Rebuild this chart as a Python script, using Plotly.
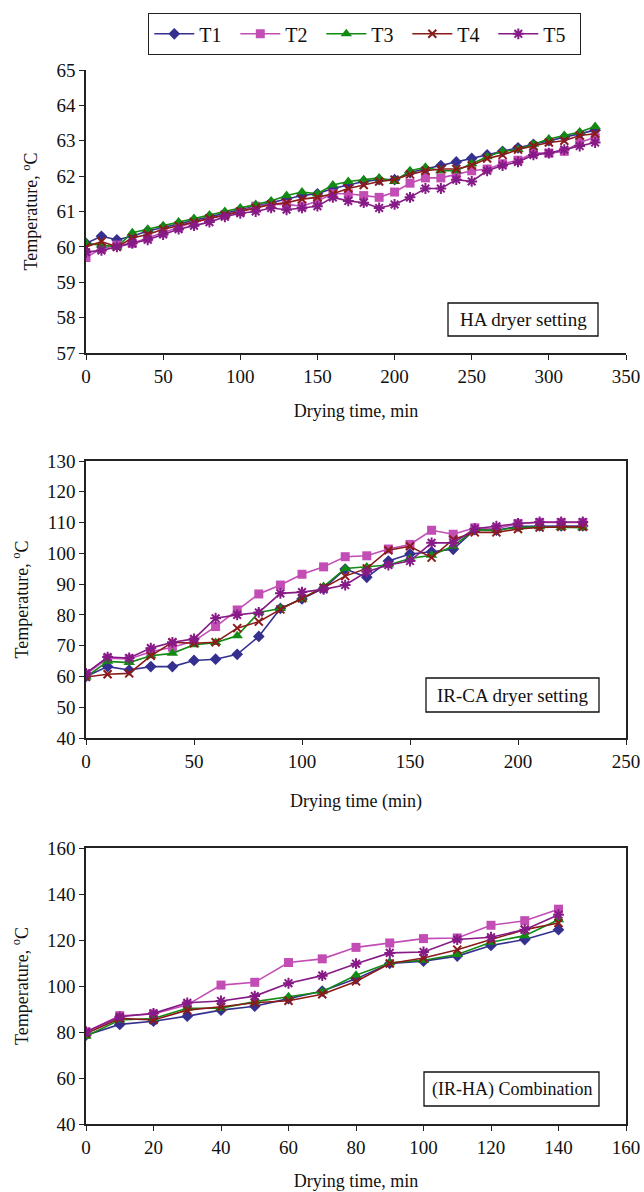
import plotly.graph_objects as go
from plotly.subplots import make_subplots

# ---------------- data ----------------
series_names = ["T1", "T2", "T3", "T4", "T5"]

ha_time = [0, 10, 20, 30, 40, 50, 60, 70, 80, 90, 100, 110, 120, 130, 140, 150, 160,
           170, 180, 190, 200, 210, 220, 230, 240, 250, 260, 270, 280, 290, 300, 310, 320, 330]
ha_T1 = [60.1, 60.3, 60.2, 60.3, 60.45, 60.55, 60.65, 60.75, 60.85, 60.95, 61.05, 61.15, 61.25,
         61.35, 61.45, 61.5, 61.65, 61.75, 61.85, 61.9, 61.9, 62.1, 62.2, 62.3, 62.4, 62.5,
         62.6, 62.7, 62.8, 62.9, 63.0, 63.1, 63.2, 63.3]
ha_T2 = [59.7, 59.95, 60.05, 60.1, 60.25, 60.4, 60.55, 60.7, 60.8, 60.9, 61.0, 61.15, 61.2,
         61.2, 61.15, 61.3, 61.5, 61.5, 61.45, 61.4, 61.55, 61.8, 61.95, 61.95, 62.05, 62.15,
         62.2, 62.35, 62.45, 62.65, 62.65, 62.7, 62.95, 63.1]
ha_T3 = [60.1, 60.05, 60.0, 60.4, 60.5, 60.6, 60.7, 60.8, 60.9, 61.0, 61.1, 61.2, 61.3,
         61.45, 61.55, 61.5, 61.75, 61.85, 61.9, 61.95, 61.85, 62.15, 62.25, 62.15, 62.15,
         62.35, 62.55, 62.7, 62.75, 62.9, 63.05, 63.15, 63.25, 63.4]
ha_T4 = [60.0, 60.15, 60.0, 60.25, 60.35, 60.5, 60.6, 60.7, 60.8, 60.9, 61.0, 61.1, 61.2,
         61.25, 61.35, 61.4, 61.5, 61.65, 61.75, 61.85, 61.9, 62.05, 62.15, 62.2, 62.2, 62.3,
         62.5, 62.6, 62.75, 62.85, 62.95, 63.0, 63.15, 63.2]
ha_T5 = [59.85, 59.9, 60.0, 60.1, 60.2, 60.35, 60.5, 60.6, 60.7, 60.85, 60.95, 61.0, 61.1,
         61.05, 61.1, 61.15, 61.4, 61.3, 61.25, 61.1, 61.2, 61.4, 61.65, 61.65, 61.9, 61.85,
         62.15, 62.3, 62.4, 62.6, 62.65, 62.75, 62.85, 62.95]

irca_time = [0, 10, 20, 30, 40, 50, 60, 70, 80, 90, 100, 110, 120, 130, 140, 150, 160,
             170, 180, 190, 200, 210, 220, 230]
irca_T1 = [60.0, 63.2, 62.1, 63.2, 63.2, 65.2, 65.6, 67.2, 73.0, 82.1, 85.2, 88.6, 94.9,
           92.2, 97.5, 99.8, 100.5, 101.3, 107.7, 107.5, 108.8, 108.9, 108.9, 108.9]
irca_T2 = [60.8, 65.9, 65.7, 68.0, 69.5, 71.5, 76.2, 81.6, 86.8, 89.7, 93.2, 95.6, 98.9,
           99.2, 101.4, 102.9, 107.5, 106.2, 108.3, 108.0, 109.7, 110.0, 110.0, 110.0]
irca_T3 = [59.8, 64.9, 64.5, 66.7, 67.5, 70.3, 71.0, 73.2, 80.8, 82.1, 85.2, 89.2, 95.1,
           95.6, 96.2, 98.3, 99.4, 102.3, 107.7, 107.5, 108.4, 108.6, 108.4, 108.3]
irca_T4 = [59.8, 60.7, 61.0, 66.7, 71.1, 70.8, 71.1, 75.7, 77.8, 81.8, 85.4, 88.8, 92.6,
           95.1, 101.0, 102.3, 98.6, 104.5, 106.8, 106.8, 107.9, 108.4, 108.6, 108.6]
irca_T5 = [61.0, 66.3, 66.0, 69.2, 71.1, 72.2, 78.9, 80.0, 80.8, 87.0, 87.4, 88.3, 89.7,
           94.0, 96.2, 97.5, 103.4, 103.4, 108.0, 108.8, 109.7, 110.2, 110.2, 110.2]

irha_time = [0, 10, 20, 30, 40, 50, 60, 70, 80, 90, 100, 110, 120, 130, 140]
irha_T1 = [78.6, 83.3, 84.7, 86.9, 89.5, 91.2, 94.5, 97.8, 103.1, 109.8, 110.8, 113.0, 117.6, 120.2, 124.5]
irha_T2 = [80.1, 87.1, 87.8, 91.8, 100.4, 101.6, 110.2, 111.8, 116.8, 118.7, 120.6, 120.9, 126.4, 128.4, 133.4]
irha_T3 = [78.2, 85.2, 85.9, 90.3, 90.3, 93.2, 95.3, 97.5, 104.7, 110.1, 111.2, 113.7, 119.0, 121.9, 128.8]
irha_T4 = [79.3, 85.9, 85.2, 89.5, 91.0, 92.7, 93.6, 96.4, 102.0, 109.8, 112.2, 115.8, 120.2, 124.5, 127.4]
irha_T5 = [80.1, 86.6, 88.1, 92.7, 93.5, 95.6, 101.2, 104.5, 109.7, 114.4, 114.8, 120.2, 121.2, 124.5, 131.0]

panel_labels = ["HA dryer setting", "IR-CA dryer setting", "(IR-HA) Combination"]
x_titles = ["Drying time, min", "Drying time (min)", "Drying time, min"]
y_title = "Temperature, <sup>o</sup>C"

# ---------------- styling ----------------
colors = ["#35308F", "#C24DB5", "#138A13", "#8B1A1A", "#861A86"]
symbols = ["diamond", "square", "triangle-up", "x-thin", "asterisk"]
sizes = [9, 9, 10, 8, 9]
FONT = "Liberation Serif"
W, H = 644, 1192

def px_x(px):
    return px / W

def px_y(py):
    return 1 - py / H

fig = make_subplots(rows=3, cols=1)

panels = [
    (ha_time, [ha_T1, ha_T2, ha_T3, ha_T4, ha_T5]),
    (irca_time, [irca_T1, irca_T2, irca_T3, irca_T4, irca_T5]),
    (irha_time, [irha_T1, irha_T2, irha_T3, irha_T4, irha_T5]),
]

for r, (t, ys) in enumerate(panels, start=1):
    for i, (name, y) in enumerate(zip(series_names, ys)):
        open_sym = symbols[i] in ("x-thin", "asterisk")
        fig.add_trace(go.Scatter(
            x=t, y=y, mode="lines+markers", name=name,
            showlegend=(r == 1),
            line=dict(color=colors[i], width=1.6),
            marker=dict(symbol=symbols[i], size=sizes[i], color=colors[i],
                        line=dict(color=colors[i], width=2 if open_sym else 0)),
        ), row=r, col=1)

# plot-area geometry (page pixels)
x0, x1 = 86, 626
ydom = [(70, 353), (461, 738), (848, 1124)]
xranges = [[0, 350], [0, 250], [0, 160]]
xdtick = [50, 50, 20]
yranges = [[57, 65], [40, 130], [40, 160]]
ydtick = [1, 10, 20]
mirror = [False, True, True]
xstandoff = [19, 24, 18]
# label boxes in page pixels: (left, top, right, bottom)
boxes = [(448, 303, 598, 336), (426, 678, 599, 712), (424, 1072, 599, 1106)]
label_sizes = [19, 19, 18]

axis_common = dict(
    showline=True, linecolor="#222", linewidth=1.5,
    ticks="outside", ticklen=5, tickwidth=1.3, tickcolor="#222",
    showgrid=False, zeroline=False, automargin=False, ticklabeloverflow="allow",
    tickfont=dict(family=FONT, size=19, color="#111"),
)

for k in range(3):
    top, bot = ydom[k]
    xa = "xaxis" if k == 0 else f"xaxis{k+1}"
    ya = "yaxis" if k == 0 else f"yaxis{k+1}"
    fig.layout[xa].update(
        domain=[px_x(x0), px_x(x1)], range=xranges[k], dtick=xdtick[k], tick0=0,
        mirror=mirror[k],
        title=dict(text=x_titles[k], font=dict(family=FONT, size=18, color="#111"),
                   standoff=xstandoff[k]),
        **axis_common)
    fig.layout[ya].update(
        domain=[px_y(bot), px_y(top)], range=yranges[k], dtick=ydtick[k], tick0=0,
        mirror=mirror[k],
        title=dict(text=y_title, font=dict(family=FONT, size=18, color="#111"), standoff=14),
        **axis_common)
    bl, bt, br, bb = boxes[k]
    fig.add_shape(type="rect", xref="paper", yref="paper",
                  x0=px_x(bl), x1=px_x(br), y0=px_y(bb), y1=px_y(bt),
                  line=dict(color="#111", width=1.3), fillcolor="white", layer="above")
    fig.add_annotation(
        text=panel_labels[k], xref="paper", yref="paper",
        x=px_x((bl + br) / 2), y=px_y((bt + bb) / 2), xanchor="center", yanchor="middle",
        showarrow=False, font=dict(family=FONT, size=label_sizes[k], color="#111"))

fig.update_layout(
    width=W, height=H,
    margin=dict(l=0, r=0, t=0, b=0),
    paper_bgcolor="white", plot_bgcolor="white",
    font=dict(family=FONT, color="#111"),
    legend=dict(
        orientation="h", x=px_x(148), y=px_y(13), xanchor="left", yanchor="top",
        bordercolor="#222", borderwidth=1.3, bgcolor="white",
        font=dict(family=FONT, size=20, color="#111"),
        entrywidth=31, entrywidthmode="pixels",
        itemwidth=40,
    ),
)

# remove the default 8px page margin so the 644x1192 figure fills the window exactly
fig.write_html("out.html", config={"displayModeBar": False},
               post_script="document.body.style.margin='0px';")
